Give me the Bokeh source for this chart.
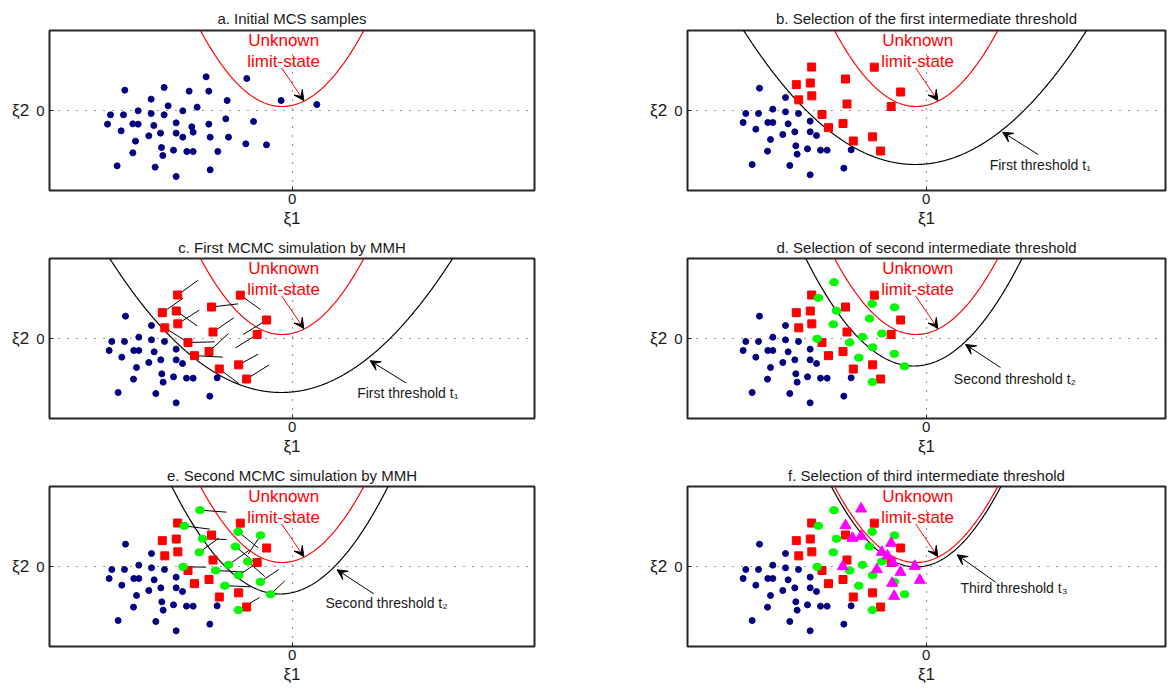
import numpy as np
from bokeh.plotting import figure
from bokeh.layouts import column, row
from bokeh.models import Range1d, FixedTicker, Arrow, VeeHead
from bokeh.core.properties import value
from bokeh.embed import file_html
from bokeh.resources import INLINE

FONT = "Liberation Sans"

# ---------------- data ----------------
titles = ["a. Initial MCS samples",
          "b. Selection of the first intermediate threshold",
          "c. First MCMC simulation by MMH",
          "d. Selection of second intermediate threshold",
          "e. Second MCMC simulation by MMH",
          "f. Selection of third intermediate threshold"]

# initial Monte Carlo samples (panel a)
blue_a_x = [-1.72, -0.907, -3.347, -2.56, -2.06, -1.667, -2.82, -1.30, -0.22, 0.493,
            -2.48, -1.90, -3.08, -2.187, -3.633, -3.373, -2.82, -2.56, -1.327, -0.773,
            -3.693, -3.187, -3.08, -2.32, -1.667, -2.767, -2.007, -3.42, -2.633, -2.32,
            -1.98, -2.867, -2.187, -1.64, -1.273, -3.133, -0.927, -0.513, -2.613, -2.373,
            -2.107, -1.98, -1.487, -3.187, -2.587, -3.50, -2.74, -1.64, -2.32]
blue_a_y = [0.673, 0.64, 0.407, 0.46, 0.387, 0.387, 0.227, 0.20, 0.20, 0.12,
            0.093, 0.067, -0.007, -0.007, -0.087, -0.087, -0.06, -0.087, -0.167, -0.22,
            -0.273, -0.267, -0.273, -0.247, -0.273, -0.30, -0.327, -0.407, -0.453, -0.453,
            -0.433, -0.507, -0.533, -0.533, -0.533, -0.613, -0.667, -0.687, -0.74, -0.793,
            -0.82, -0.82, -0.82, -0.847, -0.90, -1.107, -1.133, -1.187, -1.32]

# samples below the first threshold (panels b-f)
blue_x = [-3.333, -2.813, -3.607, -3.353, -3.067, -2.813, -2.553, -3.66, -3.167, -3.067,
          -2.32, -2.76, -3.407, -2.627, -2.32, -2.193, -2.867, -3.113, -2.607, -2.373,
          -2.113, -1.98, -1.50, -3.173, -2.58, -3.48, -2.727, -1.647, -2.32]
blue_y = [0.447, 0.26, -0.06, -0.06, 0.027, -0.027, -0.06, -0.24, -0.24, -0.24,
          -0.213, -0.267, -0.373, -0.427, -0.427, -0.50, -0.48, -0.58, -0.707, -0.767,
          -0.793, -0.793, -0.787, -0.813, -0.873, -1.08, -1.10, -1.153, -1.287]

# seeds above the first threshold (red squares)
red_x = [-2.29, -1.037, -2.597, -2.317, -1.613, -2.287, -2.547, -0.51,
         -1.583, -0.70, -2.083, -1.953, -1.663, -1.07, -1.457, -0.91]
red_y = [0.87, 0.867, 0.517, 0.55, 0.63, 0.293, 0.213, 0.37,
         0.13, 0.08, -0.08, -0.343, -0.26, -0.527, -0.61, -0.81]
# first MCMC moves (end of each segment)
mcmc1_x = [-1.88, -0.633, -2.18, -1.90, -1.08, -1.86, -2.133, -0.98,
           -1.167, -1.133, -1.547, -1.387, -1.273, -0.68, -1.067, -0.46]
mcmc1_y = [1.167, 0.58, 0.807, 0.253, 0.693, 0.567, -0.047, 0.08,
           0.413, -0.187, -0.067, -0.373, 0.10, -0.313, -0.90, -0.527]

# samples of the first MCMC (green)
green_x = [-1.843, -2.157, -1.793, -1.08, -0.633, -1.857, -1.133, -0.887,
           -1.273, -2.18, -1.53, -1.07, -1.347, -0.637, -0.433, -1.077]
green_y = [1.127, 0.813, 0.557, 0.693, 0.623, 0.283, 0.40, 0.10,
           0.033, -0.007, -0.08, -0.177, -0.383, -0.307, -0.557, -0.87]
# second MCMC moves
mcmc2_x = [-1.313, -1.647, -1.313, -0.68, -0.88, -1.467, -0.733, -0.547,
           -0.867, -1.72, -0.987, -0.68, -0.827, -0.267, -0.147, -0.653]
mcmc2_y = [1.087, 0.747, 0.54, 0.373, 0.247, 0.567, 0.073, -0.20,
           0.32, -0.013, -0.107, 0.087, -0.407, -0.06, -0.287, -0.62]

# samples of the second MCMC (magenta)
tri_x = [-1.30, -1.613, -1.473, -1.30, -0.70, -0.887, -0.773, -0.667,
         -0.227, -1.667, -0.987, -0.513, -0.127, -0.68, -0.64]
tri_y = [1.153, 0.82, 0.567, 0.607, 0.467, 0.287, 0.213, 0.073,
         0.007, 0.0, -0.06, -0.113, -0.273, -0.333, -0.593]

# parabolic limit-state / thresholds: [centre, vertex level, curvature]
limit_state = [-0.20, 0.08, 0.57]
threshold_1 = [-0.22, -1.08, 0.228]
threshold_2 = [-0.245, -0.55, 0.46]
threshold_3 = [-0.20, -0.01, 0.56]

threshold_labels = ["First threshold t\u2081", "Second threshold t\u2082", "Third threshold t\u2083"]

# ---------------- helpers ----------------
# (top border, bottom border, title standoff) per row of panels
ROWS = [(30, 43, 8), (25, 43, 6), (25, 43, 6)]
XR_LEFT = (-4.853, 4.847)
XR_RIGHT = (-4.773, 4.787)


def make_panel(idx):
    left = idx % 2 == 0
    top, bottom, standoff = ROWS[idx // 2]
    xr = XR_LEFT if left else XR_RIGHT
    p = figure(frame_width=485 if left else 478, frame_height=160,
               x_range=Range1d(*xr), y_range=Range1d(-1.6, 1.6),
               output_backend="svg", toolbar_location=None,
               min_border_left=49, min_border_right=104 if left else 5,
               min_border_top=top, min_border_bottom=bottom,
               background_fill_color="white", border_fill_color="white")
    p.title.text = titles[idx]
    p.title.align = "center"
    p.title.text_font = FONT
    p.title.text_font_size = "15px"
    p.title.text_font_style = "normal"
    p.title.text_color = "#1a1a1a"
    p.title.standoff = standoff
    for ax in (p.xaxis[0], p.yaxis[0]):
        ax.ticker = FixedTicker(ticks=[0])
        ax.axis_line_color = None
        ax.major_tick_in = 4
        ax.major_tick_out = 0
        ax.major_tick_line_color = "#222222"
        ax.minor_tick_line_color = None
        ax.major_label_text_font = FONT
        ax.major_label_text_font_size = "15px"
        ax.major_label_text_color = "#1a1a1a"
        ax.axis_label_text_font = FONT
        ax.axis_label_text_font_size = "17px"
        ax.axis_label_text_font_style = "normal"
        ax.axis_label_text_color = "#1a1a1a"
    p.xaxis.major_label_standoff = 3
    p.yaxis.major_label_standoff = 5
    p.xaxis.axis_label = "\u03be1"
    p.yaxis.axis_label = "\u03be2"
    p.xaxis.axis_label_standoff = 2
    p.yaxis.axis_label_standoff = 4
    yax = p.yaxis[0]
    if "axis_label_orientation" in yax.properties():
        yax.axis_label_orientation = "horizontal"
    p.grid.grid_line_color = "#333333"
    p.grid.grid_line_dash = "1 8"
    p.grid.grid_line_width = 1.2
    p.outline_line_color = "#262626"
    p.outline_line_width = 2
    return p


def draw_curve(p, params, color):
    c, v, a = params
    xs = np.linspace(-5.0, 5.0, 801)
    ys = v + a * (xs - c) ** 2
    keep = ys < 2.2
    p.line(xs[keep], ys[keep], line_color=color, line_width=1.2)


def limit_state_note(p):
    p.text(x=[-0.17, -0.17], y=[1.41, 0.99], text=["Unknown", "limit-state"],
           text_color="red", text_font=value(FONT), text_font_size=value("17px"),
           text_align="center", text_baseline="middle")
    p.add_layout(Arrow(x_start=-0.21, y_start=0.85, x_end=0.233, y_end=0.2,
                       line_color="red", line_width=1,
                       end=VeeHead(size=10, fill_color="black", line_color="black")))


def threshold_note(p, label, tx, ty, sx, sy, ex, ey):
    p.text(x=[tx], y=[ty], text=[label], text_color="#1a1a1a",
           text_font=value(FONT), text_font_size=value("14px"),
           text_align="left", text_baseline="middle")
    p.add_layout(Arrow(x_start=sx, y_start=sy, x_end=ex, y_end=ey,
                       line_color="black", line_width=1,
                       end=VeeHead(size=10, fill_color="black", line_color="black")))


def blue_pts(p, xs, ys):
    p.scatter(xs, ys, marker="circle", size=6, fill_color="#000080", line_color="#000080")


def red_pts(p):
    p.scatter(red_x, red_y, marker="square", size=8, fill_color="red", line_color="red")


def green_pts(p):
    p.ellipse(green_x, green_y, width=8.5, height=7, width_units="screen",
              height_units="screen", fill_color="#00ff00", line_color="#00ee00")


def tri_pts(p):
    p.scatter(tri_x, tri_y, marker="triangle", size=11, fill_color="#ff00ff", line_color="#ff00ff")


panels = [make_panel(i) for i in range(6)]
pa, pb, pc, pd, pe, pf = panels

# a
draw_curve(pa, limit_state, "red")
blue_pts(pa, blue_a_x, blue_a_y)
limit_state_note(pa)

# b
draw_curve(pb, limit_state, "red")
draw_curve(pb, threshold_1, "black")
blue_pts(pb, blue_x, blue_y)
red_pts(pb)
limit_state_note(pb)
threshold_note(pb, threshold_labels[0], 1.27, -1.09, 2.24, -0.88, 1.53, -0.435)

# c
draw_curve(pc, limit_state, "red")
draw_curve(pc, threshold_1, "black")
pc.segment(red_x, red_y, mcmc1_x, mcmc1_y, line_color="black", line_width=1)
blue_pts(pc, blue_x, blue_y)
red_pts(pc)
limit_state_note(pc)
threshold_note(pc, threshold_labels[0], 1.30, -1.08, 2.28, -0.89, 1.56, -0.445)

# d
draw_curve(pd, limit_state, "red")
draw_curve(pd, threshold_2, "black")
blue_pts(pd, blue_x, blue_y)
red_pts(pd)
green_pts(pd)
limit_state_note(pd)
threshold_note(pd, threshold_labels[1], 0.553, -0.80, 1.487, -0.58, 0.787, -0.12)

# e
draw_curve(pe, limit_state, "red")
draw_curve(pe, threshold_2, "black")
pe.segment(green_x, green_y, mcmc2_x, mcmc2_y, line_color="black", line_width=1)
blue_pts(pe, blue_x, blue_y)
red_pts(pe)
green_pts(pe)
limit_state_note(pe)
threshold_note(pe, threshold_labels[1], 0.667, -0.733, 1.633, -0.547, 0.9, -0.067)

# f
draw_curve(pf, limit_state, "red")
draw_curve(pf, threshold_3, "black")
blue_pts(pf, blue_x, blue_y)
red_pts(pf)
green_pts(pf)
tri_pts(pf)
limit_state_note(pf)
threshold_note(pf, threshold_labels[2], 0.687, -0.433, 1.387, -0.313, 0.62, 0.233)

layout = column(row(pa, pb), row(pc, pd), row(pe, pf))

open("out.html", "w").write(file_html(layout, INLINE))
